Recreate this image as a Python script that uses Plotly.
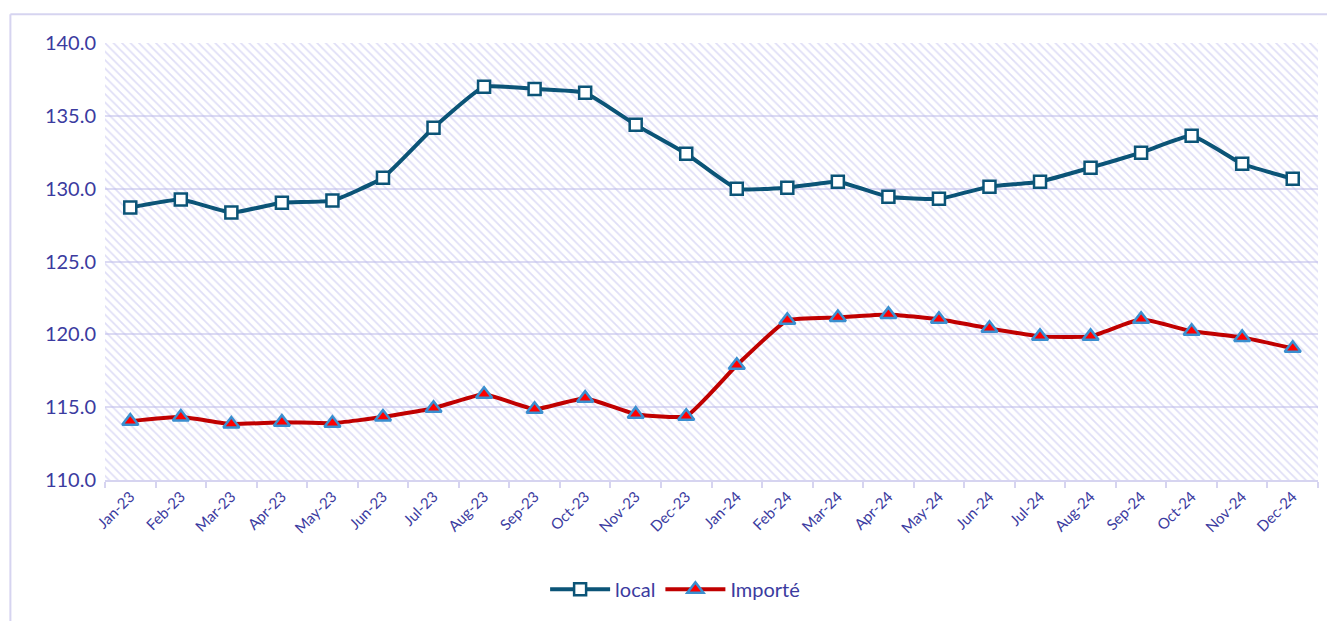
import plotly.graph_objects as go

months = ["Jan-23", "Feb-23", "Mar-23", "Apr-23", "May-23", "Jun-23", "Jul-23", "Aug-23",
          "Sep-23", "Oct-23", "Nov-23", "Dec-23", "Jan-24", "Feb-24", "Mar-24", "Apr-24",
          "May-24", "Jun-24", "Jul-24", "Aug-24", "Sep-24", "Oct-24", "Nov-24", "Dec-24"]
local = [128.7, 129.25, 128.36, 129.04, 129.18, 130.75, 134.18, 136.99, 136.85, 136.58,
         134.38, 132.4, 130.0, 130.07, 130.48, 129.45, 129.3, 130.14, 130.48, 131.44,
         132.47, 133.63, 131.71, 130.68]
importe = [114.04, 114.32, 113.84, 113.97, 113.9, 114.32, 114.93, 115.89, 114.86, 115.62,
           114.52, 114.38, 117.88, 120.96, 121.16, 121.37, 121.03, 120.41, 119.86, 119.86,
           121.03, 120.21, 119.79, 119.04]
y_min, y_max = 110, 140

TXT = "#3B3BA0"
LAV = "#D6D4F0"

fig = go.Figure()

# hatched background of the plot area
fig.add_trace(go.Bar(
    x=months, y=[y_max - y_min] * len(months), base=y_min, width=1,
    marker=dict(color="rgba(0,0,0,0)", line=dict(width=0),
                pattern=dict(shape="\\", fgcolor="#BFBDEE", bgcolor="rgba(0,0,0,0)",
                             size=6, solidity=0.28)),
    hoverinfo="skip", showlegend=False,
))

fig.add_trace(go.Scatter(
    x=months, y=local, name="local", mode="lines+markers",
    line=dict(color="#0B5477", width=4, shape="spline", smoothing=0.4),
    marker=dict(symbol="square", size=12, color="white", line=dict(color="#0B5477", width=2.5)),
))
fig.add_trace(go.Scatter(
    x=months, y=importe, name="Importé", mode="lines+markers",
    line=dict(color="#C00000", width=4, shape="spline", smoothing=0.4),
    marker=dict(symbol="triangle-up", size=14, color="#FF0000", line=dict(color="#3A8FD0", width=2.5)),
))

# page body adds an 8px offset, so the figure is sized to compensate
fig.update_layout(
    width=1327, height=613,
    margin=dict(l=97, r=17, t=35, b=132),
    paper_bgcolor="white", plot_bgcolor="white",
    font=dict(family="Lato, Open Sans, sans-serif", color=TXT),
    bargap=0,
    legend=dict(orientation="h", x=0.47, xanchor="center", y=-0.25, yanchor="middle",
                font=dict(size=20, color=TXT), itemwidth=60, traceorder="normal"),
    shapes=[
        dict(type="line", xref="paper", yref="paper", x0=-0.078, x1=1.1, y0=1.066, y1=1.066,
             line=dict(color=LAV, width=2)),
        dict(type="line", xref="paper", yref="paper", x0=-0.078, x1=-0.078, y0=1.066, y1=-0.5,
             line=dict(color=LAV, width=2)),
    ],
)
fig.update_xaxes(
    range=[-0.5, len(months) - 0.5], tickangle=-45, tickfont=dict(size=15, color=TXT),
    showline=True, linecolor=LAV, linewidth=2, ticks="outside", tickson="boundaries",
    ticklen=6, tickcolor=LAV, tickwidth=2, showgrid=False,
)
fig.update_yaxes(
    range=[y_min, y_max], dtick=5, tickformat=".1f", tickfont=dict(size=20, color=TXT),
    showgrid=True, gridcolor="#DCDBF3", gridwidth=2, zeroline=False, ticks="", ticklabelstandoff=8,
)

fig.write_html("out.html")
